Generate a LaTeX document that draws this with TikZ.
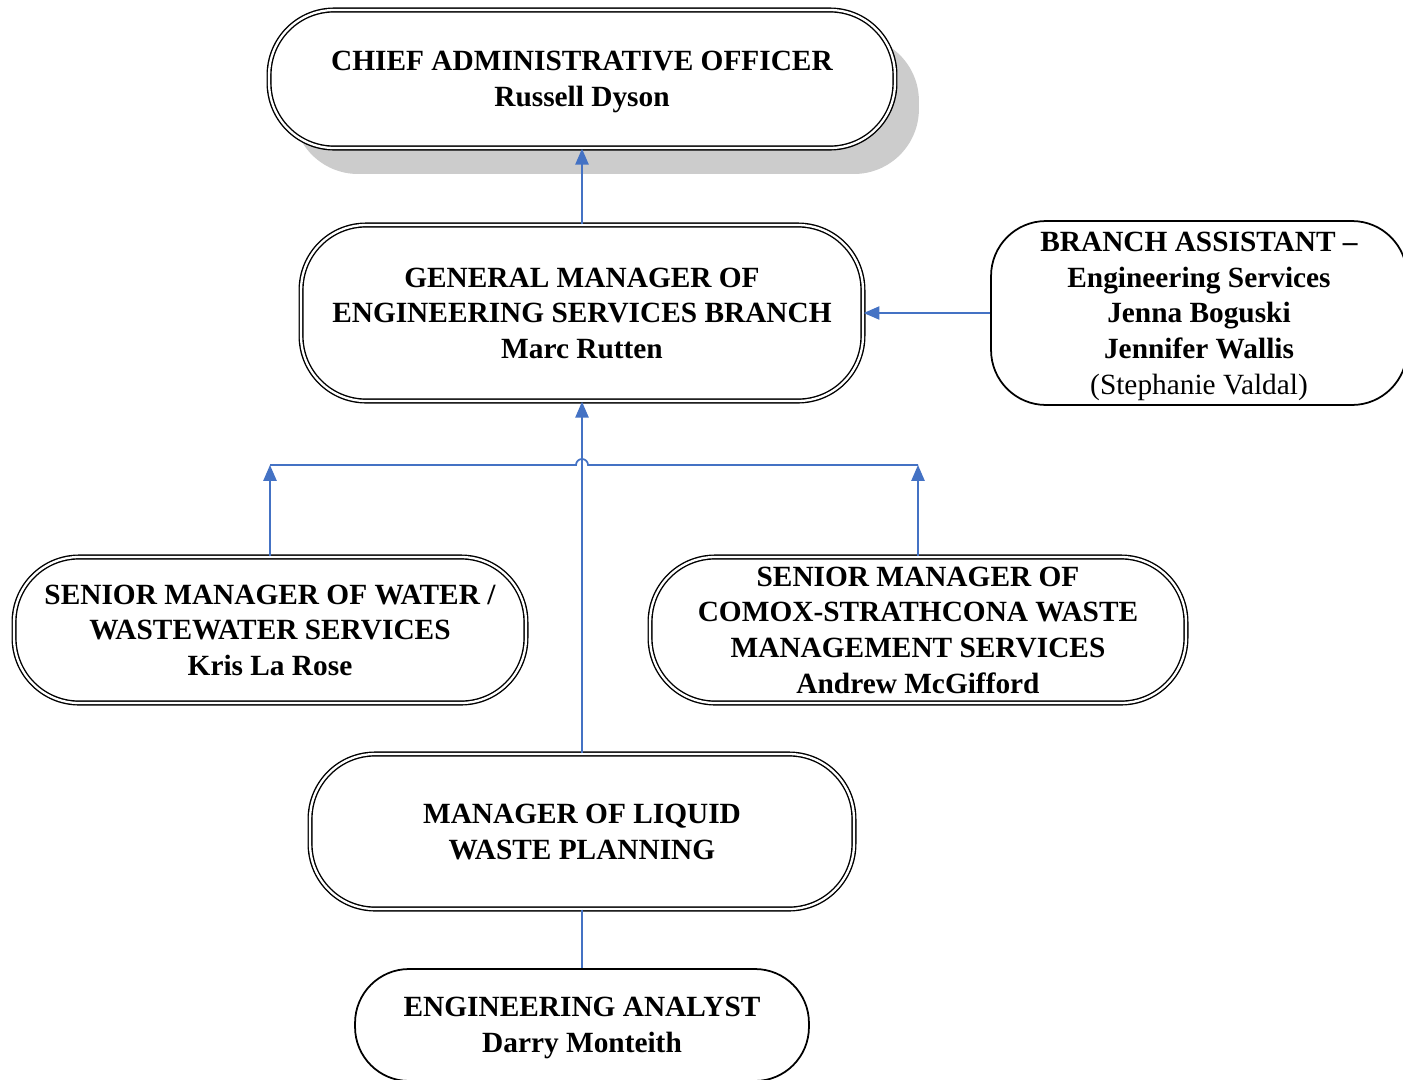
\documentclass[tikz,border=0pt]{standalone}
\usepackage{fontspec}
\setmainfont{Liberation Serif}
\usetikzlibrary{arrows.meta, shadows}
\definecolor{linkblue}{HTML}{4472C4}

\begin{document}
\begin{tikzpicture}[x=0.02cm, y=-0.02cm,
	post/.style={rectangle, rounded corners=1.3cm, draw, double, line width=0.8pt, double distance=1.3pt, fill=white, align=center, inner sep=0pt, text depth=0pt, font=\fontsize{16.7}{20.3}\selectfont\bfseries},
	postsingle/.style={post, double=none, line width=1pt},
	link/.style={draw=linkblue, line width=1pt},
	uplink/.style={link, -{Triangle[length=9pt, width=7.5pt]}}]
	\useasboundingbox (0,0) rectangle (1403,1079);
	\clip (0,0) rectangle (1403,1079);
	% Posts:
	\node[post, minimum width=12.52cm, minimum height=2.76cm, drop shadow={shadow xshift=0.48cm, shadow yshift=-0.52cm, fill=black!20, opacity=1}](cao) at (582,79){CHIEF ADMINISTRATIVE OFFICER\\Russell Dyson};
	\node[post, minimum width=11.24cm, minimum height=3.52cm](gm) at (582,313){GENERAL MANAGER OF\\ENGINEERING SERVICES BRANCH\\Marc Rutten};
	\node[postsingle, rounded corners=1.1cm, minimum width=8.32cm, minimum height=3.68cm](assistant) at (1199,313){BRANCH ASSISTANT --\\Engineering Services\\Jenna Boguski\\Jennifer Wallis\\\mdseries(Stephanie Valdal)};
	\node[post, minimum width=10.24cm, minimum height=2.92cm](water) at (270,630){SENIOR MANAGER OF WATER /\\WASTEWATER SERVICES\\Kris La Rose};
	\node[post, minimum width=10.72cm, minimum height=2.92cm](comox) at (918,630){SENIOR MANAGER OF\\COMOX-STRATHCONA WASTE\\MANAGEMENT SERVICES\\Andrew McGifford};
	\node[post, minimum width=10.88cm, minimum height=3.1cm](liquid) at (582,831.5){MANAGER OF LIQUID\\WASTE PLANNING};
	\node[postsingle, rounded corners=1.08cm, minimum width=9.08cm, minimum height=2.24cm](analyst) at (582,1025){ENGINEERING ANALYST\\Darry Monteith};
	% Connectors:
	\coordinate (bar) at (582,465);
	\draw[uplink] (gm) -- (cao);
	\draw[uplink] (assistant) -- (gm);
	\draw[uplink] (liquid) -- (gm);
	\draw[uplink] (water.north) -- (water.north |- bar);
	\draw[uplink] (comox.north) -- (comox.north |- bar);
	\draw[link] (water.north |- bar) -- ([xshift=-0.12cm]bar) arc[start angle=180, end angle=360, radius=6] -- (comox.north |- bar);
	\draw[link] (liquid) -- (analyst);
\end{tikzpicture}
\end{document}
